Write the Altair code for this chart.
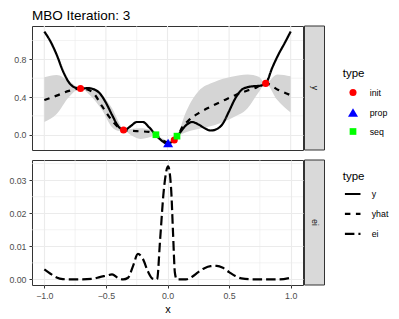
import altair as alt
import pandas as pd

FONT = "Liberation Sans"

# ---- true function y (solid) ----
y_x = [-1.0, -0.95, -0.9, -0.85, -0.8, -0.75, -0.7, -0.65, -0.6, -0.55, -0.5,
       -0.45, -0.4, -0.35, -0.3, -0.25, -0.2, -0.15, -0.1, -0.05, 0.0, 0.05,
       0.1, 0.15, 0.2, 0.25, 0.3, 0.35, 0.4, 0.45, 0.5, 0.55, 0.6, 0.65, 0.7,
       0.75, 0.8, 0.85, 0.9, 0.95, 1.0]
y_val = [1.095, 0.99, 0.85, 0.68, 0.555, 0.50, 0.49, 0.495, 0.483, 0.44, 0.34,
         0.21, 0.09, 0.05, 0.09, 0.135, 0.135, 0.08, 0.005, -0.06, -0.095, -0.06,
         0.02, 0.10, 0.135, 0.11, 0.07, 0.045, 0.06, 0.12, 0.25, 0.385, 0.475,
         0.505, 0.515, 0.52, 0.55, 0.71, 0.85, 0.97, 1.095]

# ---- surrogate prediction yhat (dashed) ----
hat_x = [-1.0, -0.9, -0.8, -0.706, -0.65, -0.6, -0.53, -0.45, -0.4, -0.357,
         -0.25, -0.15, -0.094, -0.04, 0.0, 0.055, 0.08, 0.12, 0.17, 0.26, 0.37,
         0.45, 0.55, 0.65, 0.72, 0.797, 0.9, 1.0]
hat_val = [0.368, 0.415, 0.465, 0.49, 0.48, 0.44, 0.30, 0.15, 0.08, 0.05,
           0.038, 0.03, 0.0, -0.06, -0.08, -0.055, -0.02, 0.08, 0.15, 0.235, 0.31,
           0.36, 0.42, 0.47, 0.50, 0.545, 0.475, 0.42]

# ---- uncertainty band ----
band_x = [-1.0, -0.9, -0.8, -0.706, -0.63, -0.53, -0.45, -0.39, -0.357, -0.3,
          -0.22, -0.14, -0.094, -0.04, 0.0, 0.055, 0.08, 0.14, 0.25, 0.38, 0.52,
          0.65, 0.74, 0.797, 0.89, 1.0]
band_lo = [0.135, 0.22, 0.40, 0.49, 0.42, 0.26, 0.08, 0.04, 0.05, 0.0,
           -0.045, -0.025, 0.0, -0.08, -0.10, -0.055, -0.025, 0.02, 0.06, 0.10, 0.175,
           0.28, 0.45, 0.545, 0.37, 0.235]
band_hi = [0.61, 0.635, 0.57, 0.49, 0.51, 0.42, 0.28, 0.12, 0.05, 0.06,
           0.07, 0.05, 0.0, -0.04, -0.06, -0.055, -0.015, 0.21, 0.46, 0.56, 0.615,
           0.64, 0.615, 0.545, 0.64, 0.62]

# ---- design points ----
pt_type = ["init", "init", "init", "init", "prop", "seq", "seq"]
pt_x = [-0.706, -0.357, 0.055, 0.797, 0.005, -0.094, 0.077]
pt_y = [0.49, 0.05, -0.055, 0.545, -0.088, 0.0, -0.015]

# ---- expected improvement ----
ei_x = [-1.0, -0.95, -0.9, -0.85, -0.8, -0.7, -0.6, -0.55, -0.5, -0.45, -0.4,
        -0.36, -0.32, -0.28, -0.24, -0.2, -0.16, -0.12, -0.085, -0.06, -0.03,
        0.005, 0.03, 0.045, 0.06, 0.075, 0.1, 0.15, 0.2, 0.25, 0.3, 0.35, 0.4,
        0.45, 0.5, 0.55, 0.6, 0.7, 0.8, 0.9, 1.0]
ei_val = [0.0030, 0.0017, 0.0006, 0.0001, 0.0, 0.0, 0.0002, 0.0007, 0.0011,
          0.0015, 0.0004, 0.0, 0.0005, 0.004, 0.0077, 0.0062, 0.0025, 0.0002,
          0.0, 0.012, 0.027, 0.0342, 0.027, 0.014, 0.002, 0.0, 0.0, 0.0, 0.0008,
          0.0022, 0.0034, 0.004, 0.0041, 0.0035, 0.0022, 0.001, 0.0003, 0.0, 0.0,
          0.0, 0.0005]

# ---- axes / labels ----
x_ticks = [-1.0, -0.5, 0.0, 0.5, 1.0]
x_minor = [-0.75, -0.25, 0.25, 0.75]
top_ticks = [0.0, 0.4, 0.8]
top_minor = [0.2, 0.6, 1.0]
bot_ticks = [0.0, 0.01, 0.02, 0.03]
bot_minor = [0.005, 0.015, 0.025, 0.035]
pt_types = ["init", "prop", "seq"]
pt_colors = ["#FF0000", "#0000FF", "#00FF00"]
pt_shapes = ["circle", "triangle-up", "square"]
pt_sizes = [50, 100, 45]
line_types = ["y", "yhat", "ei"]
line_dashes = [[1, 0], [5.5, 5.5], [9.5, 4]]
top_strip = ["y"]
bot_strip = ["ei"]
title_text = "MBO Iteration: 3"

W = 271
H1 = 124
H2 = 125
GRID = "#EBEBEB"

xscale = alt.Scale(domain=[-1.1, 1.1], nice=False, zero=False)
ytop = alt.Scale(domain=[-0.162, 1.154], nice=False, zero=False)
ybot = alt.Scale(domain=[-0.0017, 0.0361], nice=False, zero=False)
dash_scale = alt.Scale(domain=line_types, range=line_dashes)

x_axis_top = None
x_axis_bot = alt.Axis(values=x_ticks, title="x", grid=True, domain=False,
                      labelExpr="replace(format(datum.value, '.1f'), '-', '\u2212')")
y_axis_top = alt.Axis(values=top_ticks, format=".1f", title=None, grid=True,
                      domain=False, minExtent=23, maxExtent=23)
y_axis_bot = alt.Axis(values=bot_ticks, format=".2f", title=None, grid=True,
                      domain=False, minExtent=23, maxExtent=23)

y_df = pd.DataFrame({"x": y_x, "v": y_val, "type": "y"})
hat_df = pd.DataFrame({"x": hat_x, "v": hat_val, "type": "yhat"})
lines_top = pd.concat([y_df, hat_df], ignore_index=True)
band_df = pd.DataFrame({"x": band_x, "lo": band_lo, "hi": band_hi})
pts_df = pd.DataFrame({"x": pt_x, "v": pt_y, "type": pt_type})
ei_df = pd.DataFrame({"x": ei_x, "v": ei_val, "type": "ei"})


def grid_layers(yminor, yscale, xaxis, yaxis, major_x=False):
    out = []
    if major_x:
        out.append(alt.Chart(pd.DataFrame({"gx": x_ticks})).mark_rule(
            color=GRID, strokeWidth=1.1).encode(
            x=alt.X("gx:Q", scale=xscale, axis=xaxis)))
    out.append(alt.Chart(pd.DataFrame({"mx": x_minor})).mark_rule(
        color=GRID, strokeWidth=0.6).encode(
        x=alt.X("mx:Q", scale=xscale, axis=xaxis)))
    out.append(alt.Chart(pd.DataFrame({"my": yminor})).mark_rule(
        color=GRID, strokeWidth=0.6).encode(
        y=alt.Y("my:Q", scale=yscale, axis=yaxis)))
    return out


def strip_layers(label, height):
    sdf = pd.DataFrame({"label": label})
    rect = alt.Chart(sdf).mark_rect(fill="#D9D9D9", stroke="#333333",
                                    strokeWidth=1).encode(
        x=alt.value(W + 1.5), x2=alt.value(W + 21.5),
        y=alt.value(0), y2=alt.value(height))
    txt = alt.Chart(sdf).mark_text(angle=90, fontSize=8.8, color="#1A1A1A",
                                   font=FONT, align="center",
                                   baseline="middle").encode(
        x=alt.value(W + 11.5), y=alt.value(height / 2), text="label:N")
    return [rect, txt]


pt_legend = alt.Legend(orient="none", legendX=310.7, legendY=41.5, title="type",
                       padding=0, symbolOffset=4.3, labelOffset=10.7,
                       titlePadding=9, rowPadding=4.5)

band = alt.Chart(band_df).mark_area(color="#D5D5D5", opacity=1,
                                    interpolate="monotone").encode(
    x=alt.X("x:Q", scale=xscale, axis=x_axis_top),
    y=alt.Y("lo:Q", scale=ytop, axis=y_axis_top), y2="hi:Q")

top_lines = alt.Chart(lines_top).mark_line(color="black", strokeWidth=2.2,
                                           interpolate="monotone").encode(
    x=alt.X("x:Q", scale=xscale, axis=x_axis_top),
    y=alt.Y("v:Q", scale=ytop, axis=y_axis_top),
    strokeDash=alt.StrokeDash("type:N", scale=dash_scale, legend=None))

points = alt.Chart(pts_df).mark_point(filled=True, opacity=1).encode(
    x=alt.X("x:Q", scale=xscale, axis=x_axis_top),
    y=alt.Y("v:Q", scale=ytop, axis=y_axis_top),
    color=alt.Color("type:N", scale=alt.Scale(domain=pt_types, range=pt_colors),
                    legend=pt_legend),
    shape=alt.Shape("type:N", scale=alt.Scale(domain=pt_types, range=pt_shapes),
                    legend=pt_legend),
    size=alt.Size("type:N", scale=alt.Scale(type="ordinal", domain=pt_types,
                                            range=pt_sizes),
                  legend=pt_legend))

top = alt.layer(
    *grid_layers(top_minor, ytop, x_axis_top, y_axis_top, major_x=True),
    band, top_lines, points,
    *strip_layers(top_strip, H1)
).properties(
    width=W, height=H1,
    title=alt.TitleParams(title_text, anchor="start", frame="group",
                          fontSize=13.5, fontWeight="normal", color="black",
                          font=FONT, offset=3))

line_legend = alt.Legend(orient="none", legendX=310.7, legendY=10.5, title="type",
                         padding=0, symbolOffset=1, labelOffset=10,
                         titlePadding=3, rowPadding=5.9, symbolSize=243,
                         symbolStrokeWidth=2.2, symbolStrokeColor="black",
                         symbolType="stroke")

ei_line = alt.Chart(ei_df).mark_line(color="black", strokeWidth=2.2,
                                     interpolate="monotone").encode(
    x=alt.X("x:Q", scale=xscale, axis=x_axis_bot),
    y=alt.Y("v:Q", scale=ybot, axis=y_axis_bot),
    strokeDash=alt.StrokeDash("type:N", scale=dash_scale, legend=line_legend))

bottom = alt.layer(
    *grid_layers(bot_minor, ybot, x_axis_bot, y_axis_bot),
    ei_line,
    *strip_layers(bot_strip, H2)
).properties(width=W, height=H2)

chart = alt.vconcat(top, bottom, spacing=7).resolve_scale(
    x="independent", y="independent", color="independent",
    shape="independent", size="independent", strokeDash="independent"
).resolve_legend(
    color="independent", shape="independent", size="independent",
    strokeDash="independent"
).properties(padding=0, background="white").configure_view(
    stroke="#333333", strokeWidth=1
).configure_axis(
    labelFont=FONT, labelFontSize=8.8, labelColor="#4D4D4D",
    tickColor="#333333", tickSize=3, labelPadding=3,
    gridColor=GRID, gridWidth=1.1,
    titleFont=FONT, titleFontSize=11, titleFontWeight="normal",
    titleColor="black", titlePadding=4
).configure_legend(
    titleFont=FONT, titleFontSize=11.5, titleFontWeight="normal",
    titleColor="black", labelFont=FONT, labelFontSize=8.8, labelColor="black",
    symbolOpacity=1
)

chart.save("out.html", embed_options={"renderer": "svg", "actions": False})
